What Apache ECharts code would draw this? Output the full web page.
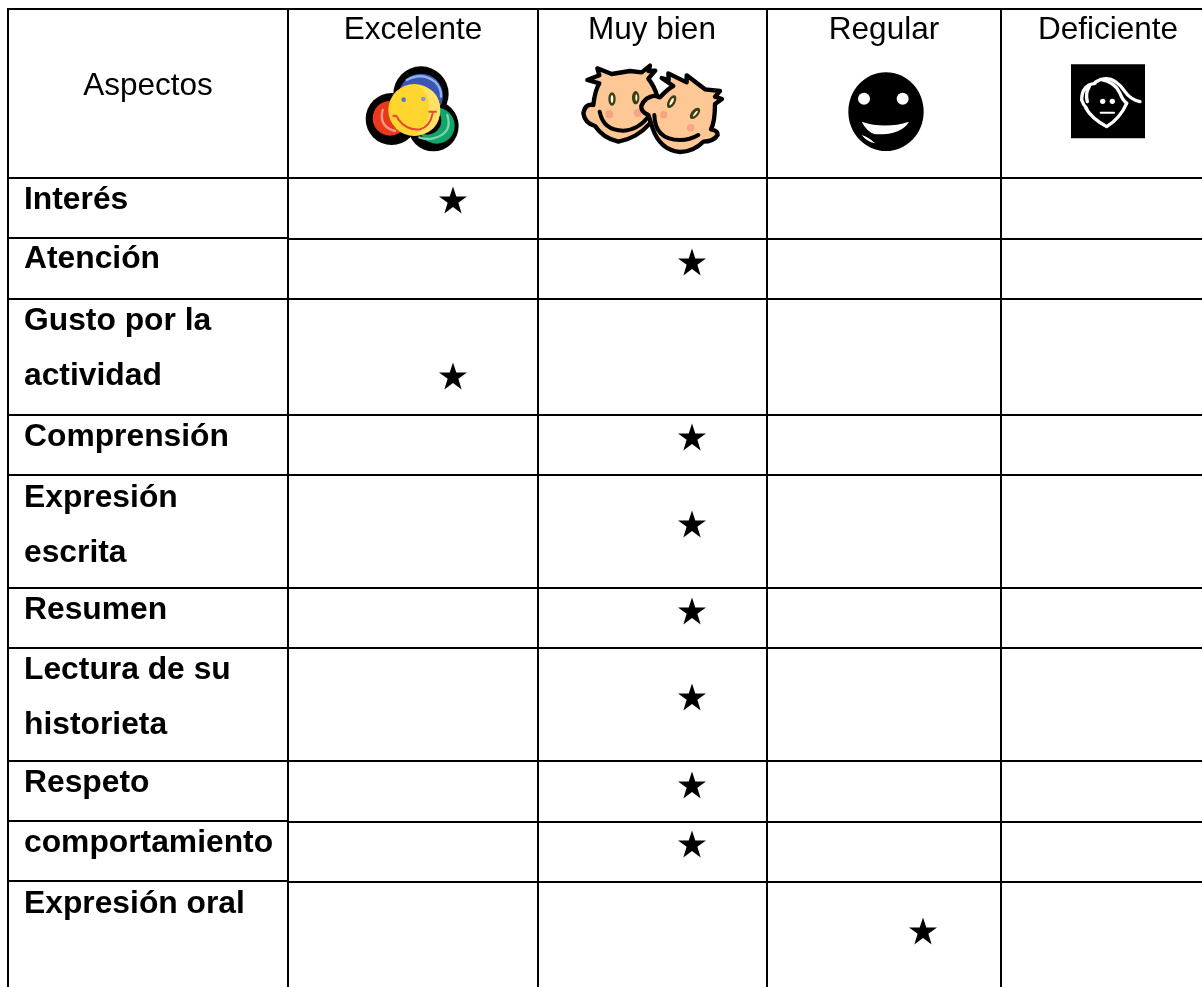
<!DOCTYPE html>
<html>
<head>
<meta charset="utf-8">
<style>
  html, body { margin: 0; padding: 0; background: #fff; }
  #tablaChart { width: 1202px; height: 987px; }
</style>
</head>
<body>
<div id="tablaChart"></div>
<script src="https://cdn.jsdelivr.net/npm/echarts@6/dist/echarts.min.js"></script>
<script>
// datos de la tabla
const columnas = ["Excelente", "Muy bien", "Regular", "Deficiente"];
const primeraColumna = "Aspectos";
const aspectos = [
  "Interés", "Atención", "Gusto por la\nactividad", "Comprensión", "Expresión\nescrita",
  "Resumen", "Lectura de su\nhistorieta", "Respeto", "comportamiento", "Expresión oral"
];
// indice de la columna marcada para cada aspecto
const valoracion = [0, 1, 0, 1, 1, 1, 1, 1, 1, 2];

// geometria, en pixeles de la imagen
const lineasV = [8, 288, 538, 767, 1001];
const lineasH = [
  [8, 1202, 9], [8, 1202, 178], [8, 288, 238], [288, 1202, 239], [8, 1202, 299], [8, 1202, 415],
  [8, 1202, 475], [8, 1202, 588], [8, 1202, 648], [8, 1202, 761], [8, 288, 821], [288, 1202, 822],
  [8, 288, 881], [288, 1202, 882]
];
const cabeceraX = [413, 652, 884, 1108];
const aspectoY = [173, 232, 294, 410, 471, 583, 643, 756, 816, 877];
const estrellaX = [453, 692, 923];
const estrellaY = [200, 262, 376, 437, 524, 611, 697, 785, 844, 931];
const estrella = "path://M50 0L61.8 35.5H100L69.1 57.5L80.9 95L50 72.5L19.1 95L30.9 57.5L0 35.5H38.2Z";

const FUENTE = '"Liberation Sans", Arial, sans-serif';

// los iconos se dibujan en coordenadas de 3x, como un recorte ampliado
function grupoIcono(api, x, y, children) {
  let p = api.coord([x, y]);
  return { type: "group", x: p[0], y: p[1], scaleX: 1 / 3, scaleY: 1 / 3, children: children };
}
function circulo(cx, cy, r, fill) {
  return { type: "circle", shape: { cx: cx, cy: cy, r: r }, style: { fill: fill } };
}
function elipse(cx, cy, rx, ry, fill, rot) {
  return {
    type: "ellipse", x: cx, y: cy, rotation: rot || 0,
    shape: { cx: 0, cy: 0, rx: rx, ry: ry }, style: { fill: fill }
  };
}
function trazo(d, stroke, width, fill) {
  return {
    type: "path", shape: { pathData: d },
    style: { fill: fill || "none", stroke: stroke || "none", lineWidth: width || 0, lineJoin: "round", lineCap: "round" }
  };
}

function iconoExcelente(api) {
  return grupoIcono(api, 340, 0, [
    circulo(243, 282, 83, "#000"), circulo(155, 357, 78, "#000"), circulo(280, 378, 76, "#000"),
    trazo("M243 282L155 357L280 378Z", "", 0, "#000"),
    circulo(243, 287, 66, "#3c56b4"),
    trazo("M200 240Q245 215 285 245Q305 265 303 290", "#8fb2ea", 7),
    circulo(150, 355, 52, "#e8391c"), circulo(290, 377, 54, "#10a66a"),
    trazo("M128 330Q115 380 165 393", "#f8998a", 7),
    trazo("M322 345Q340 400 280 415Q258 420 238 412", "#7fd2ac", 7),
    circulo(192, 355, 38, "#000"), circulo(262, 362, 42, "#000"),
    circulo(223, 330, 78, "#ffd52e"),
    trazo("M225 256Q268 268 268 330Q268 380 225 404Q300 400 300 330Q300 262 225 256Z", "", 0, "#ffe264"),
    circulo(191, 299, 7, "#5874cc"), circulo(250, 297, 7, "#7f9ae0"),
    trazo("M160 348Q172 345 175 358Q200 392 240 388Q270 380 278 340M268 335L288 335", "#e8483a", 6)
  ]);
}

function iconoMuyBien(api) {
  const piel = "#fdc796", negro = "#000", ojo = "#3f3f10", mejilla = "#f8a484";
  return grupoIcono(api, 340, 0, [
    trazo("M742 240L778 226L772 205L815 222L870 213L905 217L930 197L925 213L946 212L925 236Q945 262 952 290L930 370Q890 415 835 425Q790 415 765 378Q735 370 730 340Q735 310 760 315Q765 270 778 250Z", negro, 13, piel),
    elipse(816, 297, 11, 20, ojo), elipse(816, 297, 4, 12, "#fff"),
    elipse(887, 293, 11, 20, ojo), elipse(889, 293, 3, 10, "#fff"),
    circulo(808, 343, 12, mejilla), circulo(893, 339, 12, mejilla),
    trazo("M779 335Q790 392 850 392Q895 390 925 350", negro, 12),
    trazo("M965 234L986 240L985 220L1040 247L1040 226L1095 268L1140 273L1125 290L1146 297L1125 312Q1125 365 1113 388Q1135 392 1133 405Q1120 425 1090 425Q1060 455 1020 456Q960 450 938 385L925 345Q902 335 904 318Q915 290 945 287L960 292Q985 265 1000 258Z", negro, 13, piel),
    elipse(995, 305, 11, 21, ojo, -0.5), elipse(995, 305, 4, 12, "#fff", -0.5),
    elipse(1065, 340, 11, 20, ojo, -0.7), elipse(1066, 341, 3, 11, "#fff", -0.7),
    circulo(971, 344, 11, mejilla), circulo(1052, 383, 11, mejilla),
    trazo("M943 345Q945 420 1020 420Q1050 420 1075 405", negro, 12)
  ]);
}

function iconoRegular(api) {
  return grupoIcono(api, 760, 0, [
    elipse(378, 335, 113, 118, "#000"),
    circulo(312, 296, 18, "#fff"), circulo(428, 296, 18, "#fff"),
    trazo("M305 365Q375 388 447 365Q425 405 345 403Q320 395 305 365Z", "", 0, "#fff"),
    trazo("M305 405Q325 410 345 430Q320 425 305 405Z", "", 0, "#fff")
  ]);
}

function iconoDeficiente(api) {
  return grupoIcono(api, 980, 50, [
    { type: "rect", shape: { x: 273, y: 43, width: 222, height: 222 }, style: { fill: "#000" } },
    trazo("M318 175Q335 205 380 230Q420 205 440 160", "#fff", 10),
    trazo("M345 100Q305 105 305 150Q310 165 320 175M328 110Q315 130 322 155", "#fff", 10),
    trazo("M345 97Q395 65 435 125Q450 148 480 155", "#fff", 10),
    trazo("M362 88Q405 95 420 130Q428 150 440 160", "#fff", 10),
    circulo(368, 154, 8, "#fff"), circulo(397, 154, 8, "#fff"),
    trazo("M362 188L402 188", "#fff", 6)
  ]);
}

const chart = echarts.init(document.getElementById("tablaChart"), null, { renderer: "canvas" });
chart.setOption({
  animation: false,
  backgroundColor: "#fff",
  grid: { left: 0, right: 0, top: 0, bottom: 0 },
  xAxis: { type: "value", min: 0, max: 1202, show: false },
  yAxis: { type: "value", min: 0, max: 987, inverse: true, show: false },
  series: [
    {
      // lineas de la tabla
      type: "custom",
      silent: true,
      data: lineasH.map(l => [l[0], l[2], l[1], l[2]]).concat(lineasV.map(x => [x, 8, x, 987])),
      renderItem: function(params, api) {
        let a = api.coord([api.value(0), api.value(1)]);
        let b = api.coord([api.value(2), api.value(3)]);
        return {
          type: "line",
          shape: { x1: a[0], y1: a[1], x2: b[0], y2: b[1] },
          style: { stroke: "#000", lineWidth: 2 }
        };
      }
    },
    {
      // textos de cabecera
      type: "custom",
      silent: true,
      data: columnas.map((c, i) => [cabeceraX[i], 30]),
      renderItem: function(params, api) {
        let p = api.coord([api.value(0), api.value(1)]);
        return {
          type: "text", x: p[0], y: p[1],
          style: { text: columnas[params.dataIndex], fill: "#000", font: "31.5px " + FUENTE, textAlign: "center", textVerticalAlign: "middle" }
        };
      }
    },
    {
      type: "custom",
      silent: true,
      data: [[148, 86]],
      renderItem: function(params, api) {
        let p = api.coord([api.value(0), api.value(1)]);
        return {
          type: "text", x: p[0], y: p[1],
          style: { text: primeraColumna, fill: "#000", font: "31.5px " + FUENTE, textAlign: "center", textVerticalAlign: "middle" }
        };
      }
    },
    {
      // aspectos, primera columna
      type: "custom",
      silent: true,
      data: aspectos.map((a, i) => [24, aspectoY[i]]),
      renderItem: function(params, api) {
        let p = api.coord([api.value(0), api.value(1)]);
        return {
          type: "text", x: p[0], y: p[1],
          style: { text: aspectos[params.dataIndex], fill: "#000", font: "bold 31.8px " + FUENTE, lineHeight: 55, textAlign: "left", textVerticalAlign: "top" }
        };
      }
    },
    {
      // iconos de las cabeceras
      type: "custom",
      silent: true,
      data: [[0, 0]],
      renderItem: function(params, api) {
        return {
          type: "group",
          children: [iconoExcelente(api), iconoMuyBien(api), iconoRegular(api), iconoDeficiente(api)]
        };
      }
    },
    {
      // estrellas de valoracion
      type: "scatter",
      silent: true,
      symbol: estrella,
      symbolSize: [28, 27],
      itemStyle: { color: "#000", opacity: 1 },
      data: valoracion.map((v, i) => [estrellaX[v], estrellaY[i]])
    }
  ]
});
window.addEventListener("resize", () => {
  chart.resize();
});
</script>
</body>
</html>
